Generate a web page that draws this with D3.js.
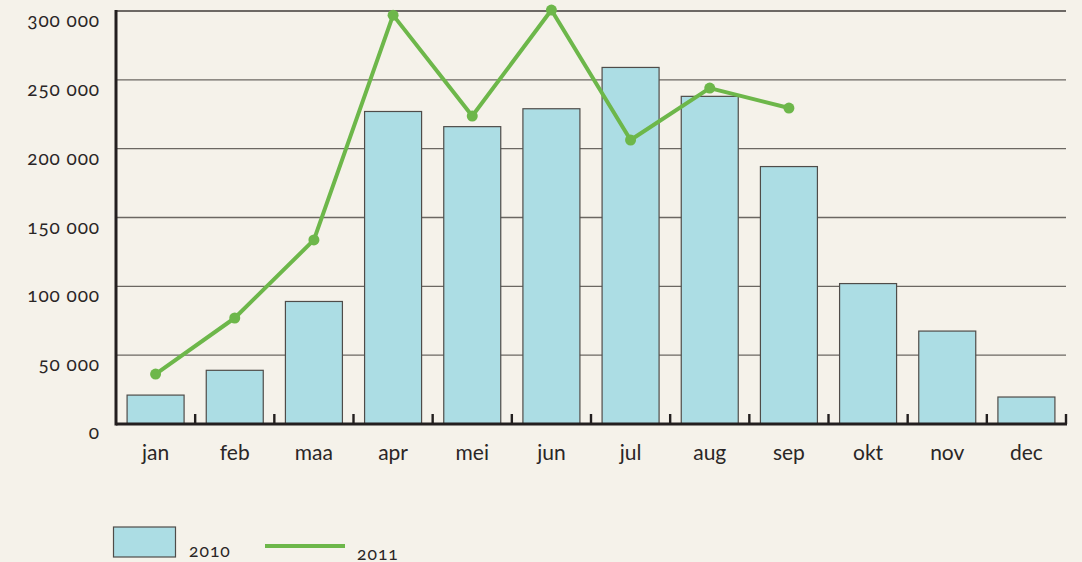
<!DOCTYPE html>
<html lang="nl">
<head>
    <meta charset="UTF-8">
    <title>Bezoekers per maand</title>
    <style>
        body { margin: 0; background: #f5f2ea; }
        svg { display: block; }
        text { font-family: Lato, "Open Sans", sans-serif; fill: #2a2626; }
        .y-label { font-size: 19px; letter-spacing: 0.9px; font-variant-numeric: oldstyle-nums; }
        .x-label { font-size: 21px; }
        .legend-label { font-size: 17.5px; letter-spacing: 1px; font-variant-numeric: oldstyle-nums; }
    </style>
</head>
<body>
    <svg width="1082" height="562"></svg>
    <script src="https://d3js.org/d3.v7.min.js"></script>
    <script>
        // Months (Dutch abbreviations)
        const months = ['jan', 'feb', 'maa', 'apr', 'mei', 'jun', 'jul', 'aug', 'sep', 'okt', 'nov', 'dec'];

        // 2010 bars
        const values2010 = [21000, 39000, 89000, 227000, 216000, 229000, 259000, 238000, 187000, 102000, 67500, 19600];

        // 2011 line (only up to september)
        const values2011 = [36300, 77000, 133700, 297000, 223700, 300700, 206300, 244000, 229500];

        const yTicks = [0, 50000, 100000, 150000, 200000, 250000, 300000];

        const margin = { left: 116, right: 16, top: 11, bottom: 138 };

        const svg = d3.select('svg');
        const width = +svg.attr('width');
        const height = +svg.attr('height');
        const innerWidth = width - margin.left - margin.right;
        const innerHeight = height - margin.top - margin.bottom;

        const x = d3.scaleBand()
            .domain(months)
            .range([0, innerWidth])
            .paddingInner(0.28)
            .paddingOuter(0.14);

        // band edges, used for the tick marks between months
        const step = innerWidth / months.length;

        const y = d3.scaleLinear()
            .domain([0, 300000])
            .range([innerHeight, 0]);

        const g = svg.append('g')
            .attr('transform', 'translate(' + margin.left + ' ' + margin.top + ')');

        // Gridlines
        g.selectAll('.grid')
            .data(yTicks.filter(function (d) { return d > 0; }))
            .enter()
            .append('line')
            .attr('class', 'grid')
            .attr('x1', 0)
            .attr('x2', innerWidth)
            .attr('y1', function (d) { return y(d); })
            .attr('y2', function (d) { return y(d); })
            .attr('stroke', function (d) { return d === 300000 ? '#3f3b38' : '#6b6762'; })
            .attr('stroke-width', 1.4);

        // Y labels (sit just below their gridline)
        g.selectAll('.y-label')
            .data(yTicks)
            .enter()
            .append('text')
            .attr('class', 'y-label')
            .attr('x', -16)
            .attr('y', function (d) { return y(d) + (d === 0 ? 15 : 16); })
            .attr('text-anchor', 'end')
            .text(function (d) { return d === 0 ? '0' : d3.format(',')(d).replace(/,/g, ' '); });

        // Bars 2010
        g.selectAll('.bar')
            .data(values2010)
            .enter()
            .append('rect')
            .attr('class', 'bar')
            .attr('x', function (d, i) { return x(months[i]); })
            .attr('y', function (d) { return y(d); })
            .attr('width', x.bandwidth())
            .attr('height', function (d) { return innerHeight - y(d); })
            .attr('fill', '#acdde4')
            .attr('stroke', '#4f4c49')
            .attr('stroke-width', 1.2);

        // X axis baseline and ticks
        g.append('line')
            .attr('x1', 0)
            .attr('x2', innerWidth + 1)
            .attr('y1', innerHeight)
            .attr('y2', innerHeight)
            .attr('stroke', '#231f1f')
            .attr('stroke-width', 3);

        g.selectAll('.x-tick')
            .data(d3.range(1, months.length + 1))
            .enter()
            .append('line')
            .attr('class', 'x-tick')
            .attr('x1', function (d) { return d * step; })
            .attr('x2', function (d) { return d * step; })
            .attr('y1', innerHeight)
            .attr('y2', innerHeight - 10)
            .attr('stroke', '#231f1f')
            .attr('stroke-width', 2.4);

        // Y axis line
        g.append('line')
            .attr('x1', 0)
            .attr('x2', 0)
            .attr('y1', -1)
            .attr('y2', innerHeight + 1.5)
            .attr('stroke', '#231f1f')
            .attr('stroke-width', 3);

        // X labels
        g.selectAll('.x-label')
            .data(months)
            .enter()
            .append('text')
            .attr('class', 'x-label')
            .attr('x', function (d) { return x(d) + x.bandwidth() / 2; })
            .attr('y', innerHeight + 36)
            .attr('text-anchor', 'middle')
            .text(function (d) { return d; });

        // Line 2011
        const line = d3.line()
            .x(function (d, i) { return x(months[i]) + x.bandwidth() / 2; })
            .y(function (d) { return y(d); });

        g.append('path')
            .datum(values2011)
            .attr('d', line)
            .attr('fill', 'none')
            .attr('stroke', '#6db74a')
            .attr('stroke-width', 4)
            .attr('stroke-linejoin', 'round');

        g.selectAll('.dot')
            .data(values2011)
            .enter()
            .append('circle')
            .attr('class', 'dot')
            .attr('cx', function (d, i) { return x(months[i]) + x.bandwidth() / 2; })
            .attr('cy', function (d) { return y(d); })
            .attr('r', 5.5)
            .attr('fill', '#6db74a');

        // Legend
        const legend = svg.append('g');

        legend.append('rect')
            .attr('x', 113.5)
            .attr('y', 527)
            .attr('width', 62)
            .attr('height', 30)
            .attr('fill', '#acdde4')
            .attr('stroke', '#4f4c49')
            .attr('stroke-width', 1.2);

        legend.append('text')
            .attr('class', 'legend-label')
            .attr('x', 189)
            .attr('y', 557)
            .text('2010');

        legend.append('line')
            .attr('x1', 265)
            .attr('x2', 345)
            .attr('y1', 546)
            .attr('y2', 546)
            .attr('stroke', '#6db74a')
            .attr('stroke-width', 4);

        legend.append('text')
            .attr('class', 'legend-label')
            .attr('x', 357)
            .attr('y', 560)
            .text('2011');
    </script>
</body>
</html>
